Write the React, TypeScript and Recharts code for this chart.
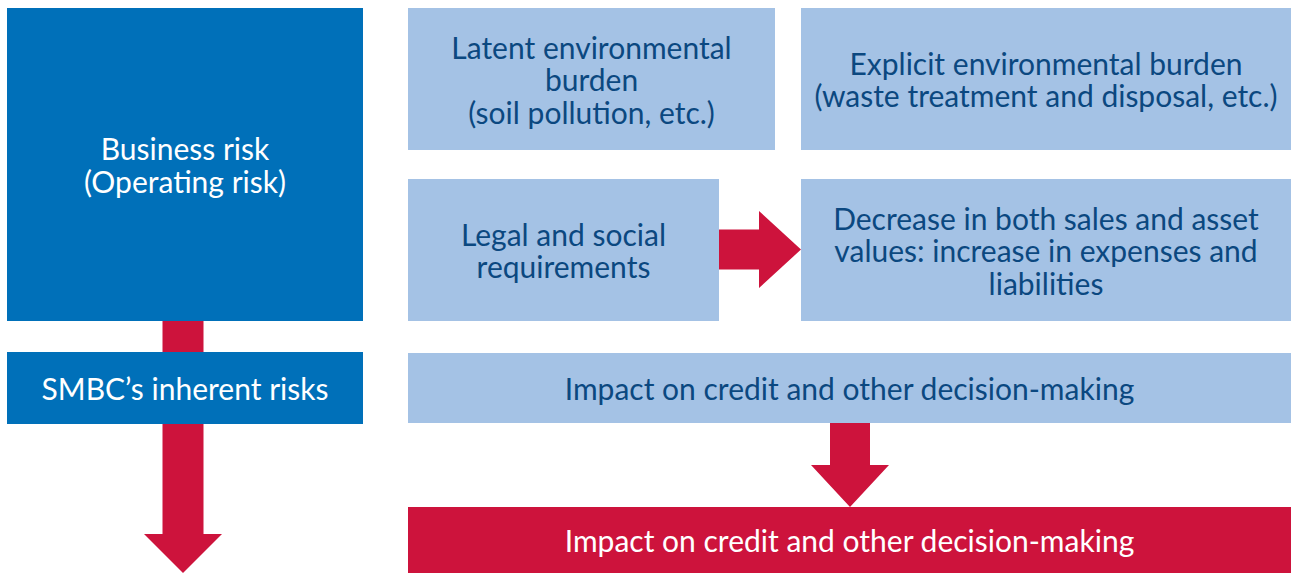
import React from 'react';
import { ComposedChart, XAxis, YAxis, ReferenceArea } from 'recharts';

const W = 1291;
const H = 573;

// Diagram boxes (in diagram units: x across 0..1291, y down 0..573)
const boxText: string[][] = [
  ['Business risk', '(Operating risk)'],
  ['SMBC\u2019s inherent risks'],
  ['Latent environmental', 'burden', '(soil pollution, etc.)'],
  ['Explicit environmental burden', '(waste treatment and disposal, etc.)'],
  ['Legal and social', 'requirements'],
  ['Decrease in both sales and asset', 'values: increase in expenses and', 'liabilities'],
  ['Impact on credit and other decision-making'],
  ['Impact on credit and other decision-making'],
];
const boxLeft = [7, 7, 408, 801, 408, 801, 408, 408];
const boxRight = [363, 363, 775, 1291, 719, 1291, 1291, 1291];
const boxTop = [8, 352, 8, 8, 179, 179, 353, 507];
const boxBottom = [321, 424, 150, 150, 321, 321, 423, 573];
const boxKind = ['dark', 'dark', 'light', 'light', 'light', 'light', 'light', 'red'];

// Arrows
const arrowLeft = [144, 719, 811];
const arrowRight = [222, 801, 889];
const arrowTop = [8, 211, 423];
const arrowBottom = [573, 288, 507];
const arrowDir = ['down', 'right', 'down'];
const arrowShaft = [41, 40, 40];
const arrowHead = [39, 42, 42];

const FILL: Record<string, string> = { dark: '#0070B9', light: '#A4C2E5', red: '#CD133C' };
const TEXT: Record<string, string> = { dark: '#FFFFFF', light: '#0B4880', red: '#FFFFFF' };
const FONT = 'Lato, "Open Sans", sans-serif';

const BoxShape = (p: any) => {
  const { x, y, width, height, lines, kind } = p;
  const lh = 32.5;
  const cx = x + width / 2;
  const cy = y + height / 2;
  return (
    <g>
      <rect x={x} y={y} width={width} height={height} fill={FILL[kind]} />
      <text textAnchor="middle" fill={TEXT[kind]} fontFamily={FONT} fontSize={30}>
        {lines.map((l: string, i: number) => (
          <tspan key={i} x={cx} y={cy + (i - (lines.length - 1) / 2) * lh} dominantBaseline="central">
            {l}
          </tspan>
        ))}
      </text>
    </g>
  );
};

const ArrowShape = (p: any) => {
  const { x, y, width, height, dir, shaft, head, units } = p;
  const k = width / units;
  const s = shaft * k;
  const hd = head * k;
  let pts: number[][] = [];
  if (dir === 'down') {
    const cx = x + width / 2;
    const by = y + height - hd;
    pts = [
      [cx - s / 2, y], [cx + s / 2, y], [cx + s / 2, by], [x + width, by],
      [cx, y + height], [x, by], [cx - s / 2, by],
    ];
  } else {
    const cy = y + height / 2;
    const bx = x + width - hd;
    pts = [
      [x, cy - s / 2], [bx, cy - s / 2], [bx, y], [x + width, cy],
      [bx, y + height], [bx, cy + s / 2], [x, cy + s / 2],
    ];
  }
  return <polygon points={pts.map((q) => q.join(',')).join(' ')} fill="#CD133C" />;
};

const frame = [{ x: 0, y: 0 }, { x: W, y: H }];

export default function App() {
  return (
    <div style={{ position: 'fixed', left: 0, top: 0, width: W, height: H, background: '#fff' }}>
      <ComposedChart width={W} height={H} data={frame} margin={{ top: 0, right: 0, bottom: 0, left: 0 }}>
        <XAxis type="number" dataKey="x" domain={[0, W]} hide allowDataOverflow />
        <YAxis type="number" dataKey="y" domain={[0, H]} reversed hide allowDataOverflow />
        {arrowDir.map((d, i) => (
          <ReferenceArea
            key={'a' + i}
            x1={arrowLeft[i]}
            x2={arrowRight[i]}
            y1={arrowTop[i]}
            y2={arrowBottom[i]}
            ifOverflow="visible"
            shape={(props: any) => (
              <ArrowShape
                {...props}
                dir={d}
                shaft={arrowShaft[i]}
                head={arrowHead[i]}
                units={arrowRight[i] - arrowLeft[i]}
              />
            )}
          />
        ))}
        {boxText.map((lines, i) => (
          <ReferenceArea
            key={'b' + i}
            x1={boxLeft[i]}
            x2={boxRight[i]}
            y1={boxTop[i]}
            y2={boxBottom[i]}
            ifOverflow="visible"
            shape={(props: any) => <BoxShape {...props} lines={lines} kind={boxKind[i]} />}
          />
        ))}
      </ComposedChart>
    </div>
  );
}
